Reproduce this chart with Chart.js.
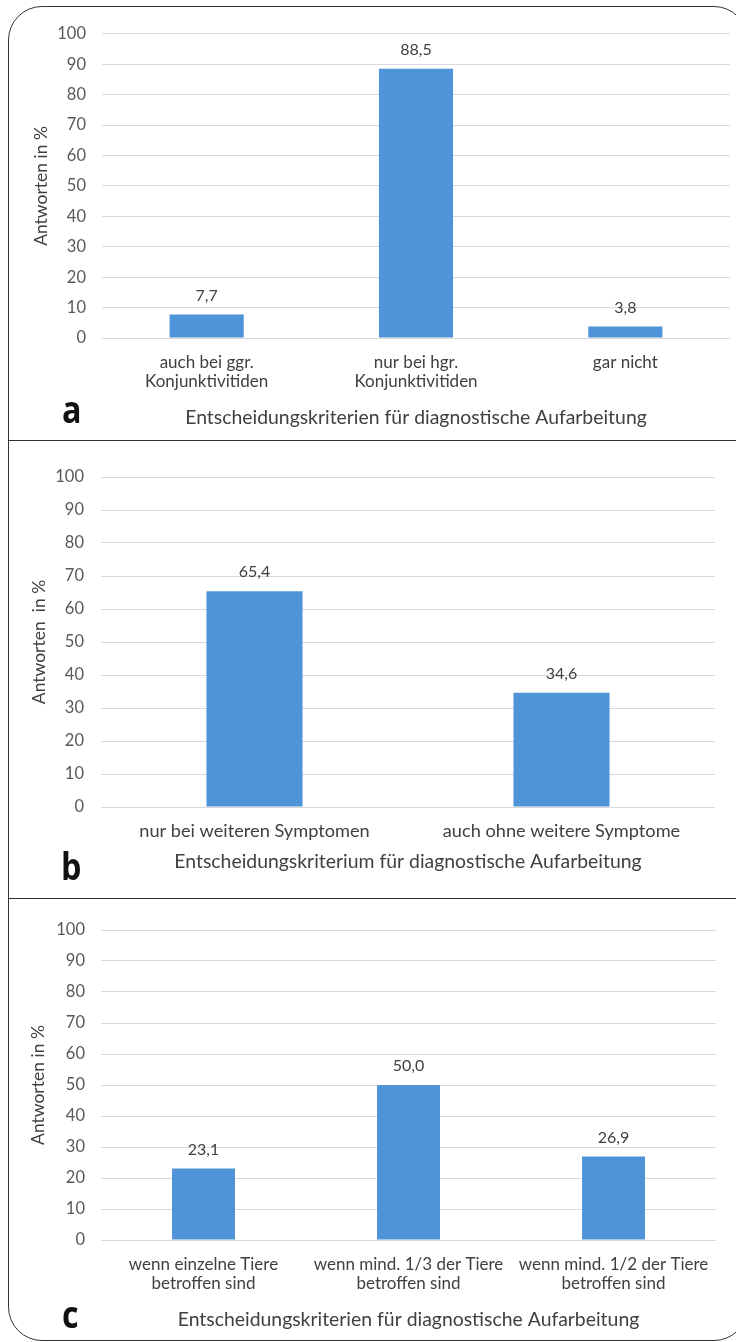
<!DOCTYPE html>
<html><head><meta charset="utf-8">
<script src="https://cdn.jsdelivr.net/npm/chart.js@4.4.1/dist/chart.umd.min.js"></script>
<style>
html,body{margin:0;padding:0;background:#fff;}
body{width:736px;height:1342px;position:relative;overflow:hidden;}
.frame{position:absolute;left:8px;top:6px;width:740px;height:1335px;border:1.5px solid #333;border-radius:34px;box-sizing:border-box;}
.sep{position:absolute;left:8px;width:730px;height:0;border-top:1.5px solid #333;}
.panel{position:absolute;left:10px;}
.letter{position:absolute;font-family:"Open Sans",sans-serif;font-weight:700;font-size:38px;color:#111;line-height:38px;transform:scaleX(0.85);transform-origin:left top;}
</style></head>
<body>
<div class="frame"></div>
<div class="sep" style="top:440px"></div>
<div class="sep" style="top:898px"></div>
<div class="panel" style="top:8px"><canvas id="ca" width="726" height="432"></canvas></div>
<div class="panel" style="top:443px"><canvas id="cb" width="726" height="453"></canvas></div>
<div class="panel" style="top:900px"><canvas id="cc" width="726" height="438"></canvas></div>
<div class="letter" style="left:62px;top:389px">a</div>
<div class="letter" style="left:61px;top:846px">b</div>
<div class="letter" style="left:62px;top:1294px">c</div>
<script>
// ---- data ----
const categoriesA = [['auch bei ggr.', 'Konjunktivitiden'], ['nur bei hgr.', 'Konjunktivitiden'], ['gar nicht']];
const valuesA = [7.7, 88.5, 3.8];
const categoriesB = ['nur bei weiteren Symptomen', 'auch ohne weitere Symptome'];
const valuesB = [65.4, 34.6];
const categoriesC = [['wenn einzelne Tiere', 'betroffen sind'], ['wenn mind. 1/3 der Tiere', 'betroffen sind'], ['wenn mind. 1/2 der Tiere', 'betroffen sind']];
const valuesC = [23.1, 50.0, 26.9];
const yMin = 0, yMax = 100, yStep = 10;
const xTitleA = 'Entscheidungskriterien für diagnostische Aufarbeitung';
const xTitleB = 'Entscheidungskriterium für diagnostische Aufarbeitung';
const xTitleC = 'Entscheidungskriterien für diagnostische Aufarbeitung';
const yTitleA = 'Antworten in %';
const yTitleB = 'Antworten  in %';
const yTitleC = 'Antworten in %';

const FONT = 'Lato';
const BAR = '#4f93d8';

const valueLabels = {
  id: 'valueLabels',
  afterDatasetsDraw(chart, args, opts) {
    const ctx = chart.ctx;
    const meta = chart.getDatasetMeta(0);
    const data = chart.data.datasets[0].data;
    ctx.save();
    ctx.font = '16px ' + FONT;
    ctx.fillStyle = '#404040';
    ctx.textAlign = 'center';
    ctx.textBaseline = 'middle';
    meta.data.forEach((bar, i) => {
      ctx.fillText(data[i].toFixed(1).replace('.', ','), bar.x, bar.y - opts.offset);
    });
    ctx.restore();
  }
};

function makeChart(id, cats, vals, xTitle, yTitle, g) {
  const canvasLeft = 10, canvasW = 726;
  const catLH = 19, titleLH = 22, yTitleLH = 20;
  new Chart(document.getElementById(id), {
    type: 'bar',
    data: {
      labels: cats,
      datasets: [{ data: vals, backgroundColor: BAR, borderWidth: 0,
        barPercentage: g.barPct, categoryPercentage: 1 }]
    },
    options: {
      responsive: false, animation: false, devicePixelRatio: 1,
      layout: { padding: { top: g.plotTop - g.canvasTop, right: canvasW - (g.plotRight - canvasLeft), left: 0, bottom: 0 } },
      plugins: { legend: { display: false }, tooltip: { enabled: false }, valueLabels: { offset: 19 } },
      scales: {
        x: {
          grid: { display: false, drawTicks: false },
          border: { display: false },
          ticks: { color: '#404040', font: { family: FONT, size: g.catSize, lineHeight: catLH / g.catSize },
            padding: g.catLine1 - g.plotBottom - catLH / 2, maxRotation: 0, autoSkip: false },
          title: { display: true, text: xTitle, color: '#404040',
            font: { family: FONT, size: 19.4, lineHeight: titleLH / 19.4 },
            padding: { top: 0, bottom: (g.canvasTop + g.canvasH) - g.xTitleY - titleLH / 2 } },
          afterFit: (s) => { s.height = g.canvasTop + g.canvasH - g.plotBottom; }
        },
        y: {
          min: yMin, max: yMax,
          grid: { color: '#d9d9d9', lineWidth: 1, drawTicks: false },
          border: { display: false },
          ticks: { stepSize: yStep, color: '#595959', font: { family: FONT, size: 16.5 },
            padding: g.plotLeft - g.tickRight },
          title: { display: true, text: yTitle, color: '#404040',
            font: { family: FONT, size: 17.5, lineHeight: yTitleLH / 17.5 },
            padding: { top: g.yTitleX - canvasLeft - yTitleLH / 2, bottom: 0 } },
          afterFit: (s) => { s.width = g.plotLeft - canvasLeft; }
        }
      }
    },
    plugins: [valueLabels]
  });
}

makeChart('ca', categoriesA, valuesA, xTitleA, yTitleA,
  { canvasTop: 8, canvasH: 432, plotTop: 25, plotBottom: 338, plotLeft: 102, plotRight: 730,
    tickRight: 86, yTitleX: 41, catLine1: 363, xTitleY: 418, barPct: 0.354, catSize: 17 });
makeChart('cb', categoriesB, valuesB, xTitleB, yTitleB,
  { canvasTop: 443, canvasH: 453, plotTop: 477, plotBottom: 807, plotLeft: 101, plotRight: 715,
    tickRight: 84, yTitleX: 39, catLine1: 831, xTitleY: 862, barPct: 0.313, catSize: 18.2 });
makeChart('cc', categoriesC, valuesC, xTitleC, yTitleC,
  { canvasTop: 900, canvasH: 438, plotTop: 930, plotBottom: 1240, plotLeft: 101, plotRight: 716,
    tickRight: 85, yTitleX: 38, catLine1: 1265, xTitleY: 1320, barPct: 0.307, catSize: 17 });
</script>
</body></html>
